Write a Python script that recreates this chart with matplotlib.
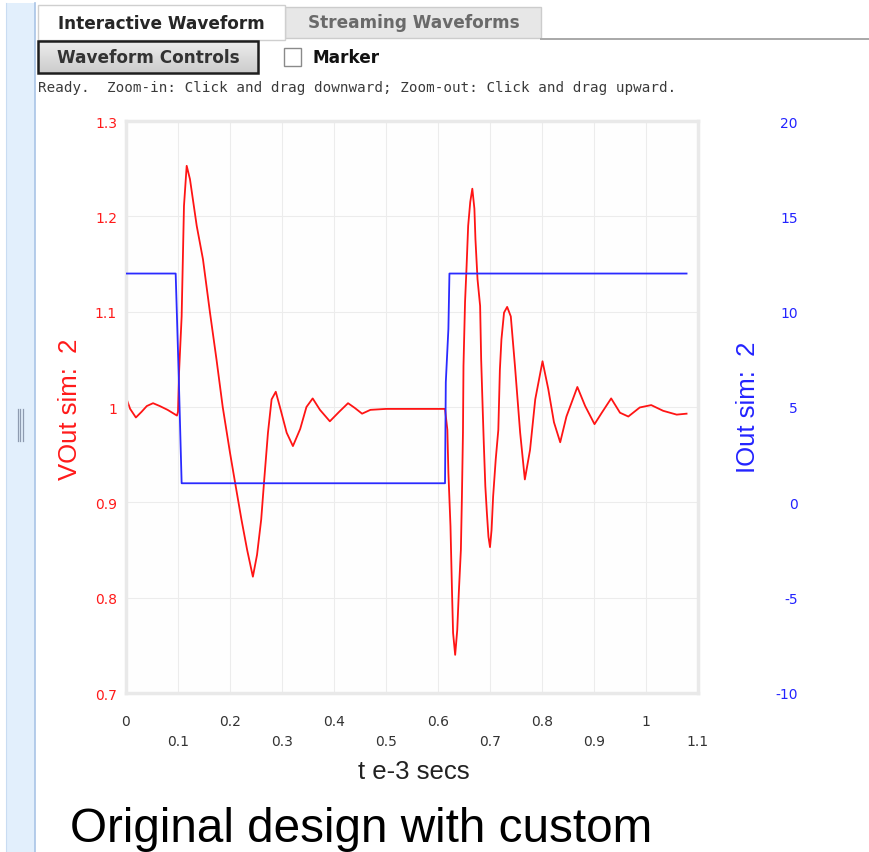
import matplotlib.pyplot as plt
from matplotlib.patches import Rectangle
import numpy as np

# VOut sim 2 (left axis)
t_vout = [0.000, 0.008, 0.019, 0.030, 0.040, 0.052, 0.065, 0.080, 0.098, 0.100,
          0.102, 0.107, 0.1115, 0.1167, 0.123, 0.136, 0.148, 0.1615, 0.174, 0.186,
          0.200, 0.210, 0.222, 0.233, 0.244, 0.252, 0.260, 0.266, 0.273, 0.280,
          0.288, 0.296, 0.309, 0.321, 0.335, 0.347, 0.359, 0.373, 0.392, 0.410,
          0.427, 0.440, 0.454, 0.470, 0.500, 0.550, 0.600, 0.6135, 0.618, 0.620,
          0.624, 0.627, 0.629, 0.633, 0.637, 0.640, 0.644, 0.646, 0.648, 0.649,
          0.652, 0.655, 0.658, 0.662, 0.666, 0.670, 0.672, 0.676, 0.681, 0.683,
          0.686, 0.688, 0.691, 0.694, 0.697, 0.700, 0.703, 0.706, 0.711, 0.716,
          0.719, 0.722, 0.727, 0.733, 0.740, 0.748, 0.758, 0.767, 0.777, 0.787,
          0.801, 0.812, 0.823, 0.835, 0.847, 0.868, 0.883, 0.901, 0.915, 0.933,
          0.950, 0.966, 0.988, 1.010, 1.033, 1.059, 1.078]
vout = [1.010, 0.998, 0.989, 0.995, 1.001, 1.004, 1.001, 0.997, 0.991, 0.995,
        1.036, 1.095, 1.211, 1.253, 1.239, 1.190, 1.155, 1.099, 1.050, 1.000,
        0.952, 0.920, 0.882, 0.850, 0.822, 0.845, 0.882, 0.925, 0.973, 1.008,
        1.016, 1.000, 0.973, 0.959, 0.977, 1.000, 1.009, 0.997, 0.985, 0.995,
        1.004, 0.999, 0.993, 0.997, 0.998, 0.998, 0.998, 0.998, 0.976, 0.931,
        0.875, 0.805, 0.763, 0.740, 0.766, 0.805, 0.850, 0.906, 0.973, 1.043,
        1.110, 1.148, 1.190, 1.215, 1.229, 1.208, 1.176, 1.134, 1.106, 1.050,
        0.997, 0.963, 0.917, 0.889, 0.864, 0.853, 0.871, 0.906, 0.945, 0.976,
        1.039, 1.071, 1.099, 1.105, 1.095, 1.043, 0.973, 0.924, 0.955, 1.008,
        1.048, 1.019, 0.984, 0.963, 0.990, 1.021, 1.001, 0.982, 0.994, 1.009,
        0.994, 0.990, 0.9995, 1.002, 0.996, 0.992, 0.993]

# IOut sim 2 (right axis)
t_iout = [0.000, 0.0955, 0.101, 0.107, 0.6135, 0.615, 0.620, 0.622, 1.078]
iout = [12, 12, 7, 1, 1, 6.3, 9.1, 12, 12]

x_major = [0, 0.2, 0.4, 0.6, 0.8, 1.0]
x_major_labels = ['0', '0.2', '0.4', '0.6', '0.8', '1']
x_minor = [0.1, 0.3, 0.5, 0.7, 0.9, 1.1]
x_minor_labels = ['0.1', '0.3', '0.5', '0.7', '0.9', '1.1']
v_ticks = [0.7, 0.8, 0.9, 1.0, 1.1, 1.2, 1.3]
v_labels = ['0.7', '0.8', '0.9', '1', '1.1', '1.2', '1.3']
i_ticks = [-10, -5, 0, 5, 10, 15, 20]
i_labels = ['-10', '-5', '0', '5', '10', '15', '20']

W, H = 870, 853
ARIAL = 'Liberation Sans'


def box(x0, y0, x1, y1):
    # pixel box (top-left origin) -> figure rect
    return [x0 / W, 1 - y1 / H, (x1 - x0) / W, (y1 - y0) / H]


fig = plt.figure(figsize=(W / 100, H / 100), dpi=100)

# --- page chrome drawn in pixel coordinates ---
ui = fig.add_axes([0, 0, 1, 1])
ui.set_xlim(0, W)
ui.set_ylim(H, 0)
ui.axis('off')

# left splitter strip
ui.add_patch(Rectangle((6, 4), 29, H, facecolor='#e2effc', edgecolor='none'))
ui.plot([35, 35], [4, H], color='#a9c4e6', lw=1.2)
ui.plot([6, 6], [4, H], color='#c9dcf2', lw=0.8)
for gx in (18, 20.5, 23):
    ui.plot([gx, gx], [410, 442], color='#8e9bb0', lw=0.9)

# tabs
ui.add_patch(Rectangle((285, 8), 256, 31, facecolor='#e7e7e7', edgecolor='#cccccc', lw=1))
ui.add_patch(Rectangle((38, 6), 247, 35, facecolor='white', edgecolor='#cfcfcf', lw=1))
ui.plot([541, W], [40, 40], color='#a8a8a8', lw=1.4)
ui.text(161, 24, 'Interactive Waveform', ha='center', va='center',
        fontsize=12.2, fontweight='bold', color='#262626')
ui.text(414, 23, 'Streaming Waveforms', ha='center', va='center',
        fontsize=12.2, fontweight='bold', color='#6a6a6a')

# button with a soft vertical gradient
grad = np.linspace(0.93, 0.80, 32).reshape(-1, 1)
ui.imshow(grad, extent=(38, 258, 74, 42), cmap='gray', vmin=0, vmax=1,
          aspect='auto', zorder=1)
ui.add_patch(Rectangle((38, 42), 220, 32, facecolor='none', edgecolor='#1e1e1e', lw=1.8, zorder=2))
ui.text(148, 58, 'Waveform Controls', ha='center', va='center',
        fontsize=12.2, fontweight='bold', color='#333333', zorder=3)

# checkbox + label
ui.add_patch(Rectangle((284, 49), 17, 18, facecolor='white', edgecolor='#8a8a8a', lw=1))
ui.text(313, 58, 'Marker', ha='left', va='center',
        fontsize=12.2, fontweight='bold', color='#111111')

ui.text(38, 88, 'Ready.  Zoom-in: Click and drag downward; Zoom-out: Click and drag upward.',
        ha='left', va='center', family='DejaVu Sans Mono', fontsize=10.3, color='#3a3a3a')

# --- the waveform chart ---
ax = fig.add_axes(box(126, 122, 698, 694))
ax.set_facecolor('#fefefe')
ax.plot(t_vout, vout, color='#ff1414', lw=1.3)
ax.set_xlim(0, 1.1)
ax.set_ylim(0.7, 1.3)
ax.set_yticks(v_ticks)
ax.set_yticklabels(v_labels)
ax.set_xticks(x_major)
ax.set_xticklabels(x_major_labels)
ax.set_xticks(x_minor, minor=True)
ax.set_xticklabels(x_minor_labels, minor=True)
ax.tick_params(axis='y', length=0, pad=6.5, labelsize=10, labelcolor='#ff1a1a')
ax.tick_params(axis='x', which='major', length=0, pad=15, labelsize=10, labelcolor='#333333')
ax.tick_params(axis='x', which='minor', length=0, pad=29.5, labelsize=10, labelcolor='#333333')
ax.grid(True, which='both', axis='x', color='#ececec', lw=0.8)
ax.grid(True, which='major', axis='y', color='#ececec', lw=0.8)
ax.set_axisbelow(True)
for s in ax.spines.values():
    s.set_color('#e9e9e9')
    s.set_linewidth(2.5)

ax2 = ax.twinx()
ax2.plot(t_iout, iout, color='#2a2aff', lw=1.3)
ax2.set_ylim(-10, 20)
ax2.set_yticks(i_ticks)
ax2.set_yticklabels(i_labels)
ax2.tick_params(axis='y', length=0, pad=72, labelsize=10, labelcolor='#2323ff')
for lbl in ax2.get_yticklabels():
    lbl.set_ha('right')
for s in ax2.spines.values():
    s.set_visible(False)

fig.text(70 / W, 1 - 409 / H, 'VOut sim:  2', rotation=90, ha='center', va='center',
         family=ARIAL, fontsize=18.5, color='#ff1a1a')
fig.text(748 / W, 1 - 407 / H, 'IOut sim:  2', rotation=90, ha='center', va='center',
         family=ARIAL, fontsize=18.5, color='#2323ff')
fig.text(414 / W, 1 - 772 / H, 't e-3 secs', ha='center', va='center',
         family=ARIAL, fontsize=18.5, color='#222222')

# caption at the bottom edge, kept just inside the frame
fig.text(70 / W, 11 / H, 'Original design with custom', ha='left', va='baseline',
         family=ARIAL, fontsize=34.3, color='black')

fig.savefig('out.png', dpi=100)
